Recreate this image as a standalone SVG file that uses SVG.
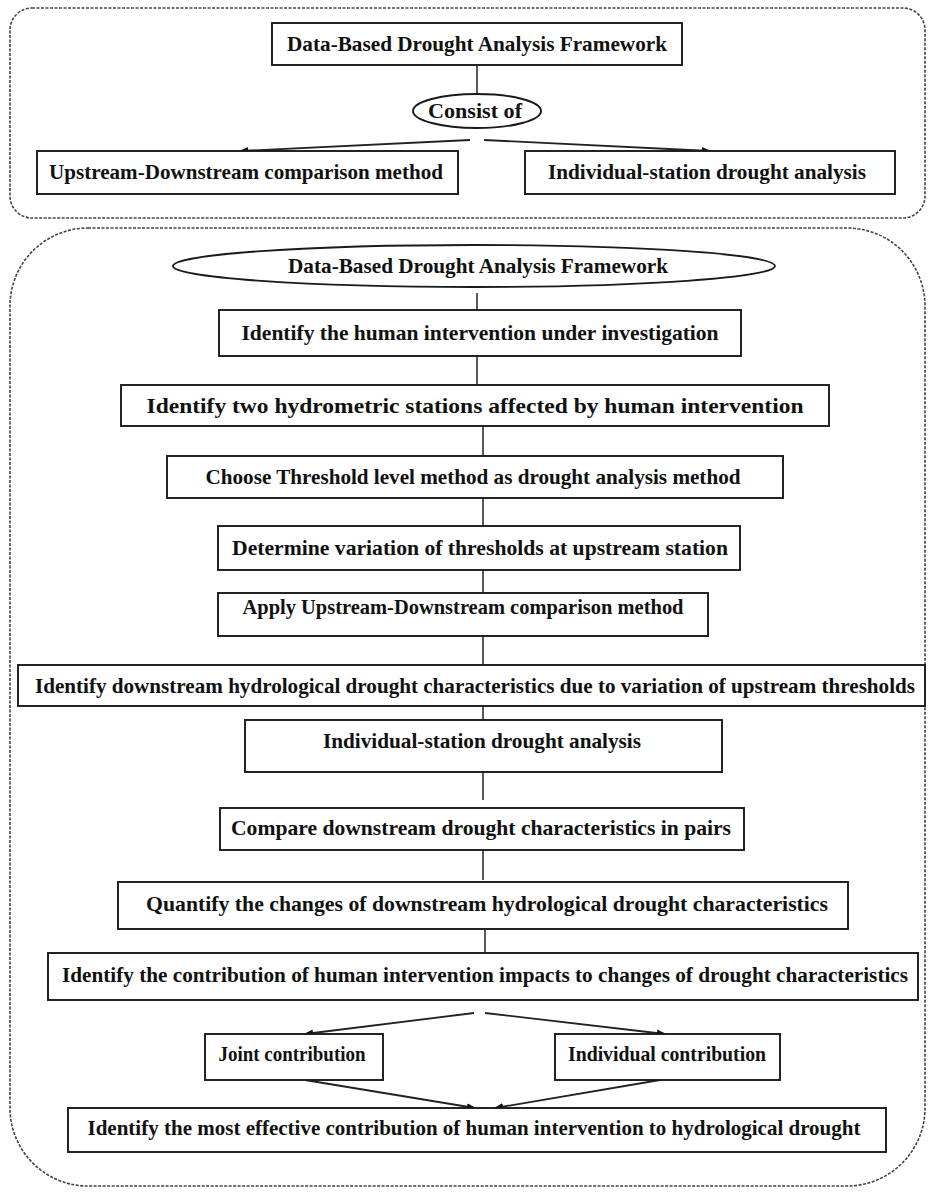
<svg xmlns="http://www.w3.org/2000/svg" width="928" height="1196" viewBox="0 0 928 1196">
<defs>
<style>
.c{fill:none;stroke:#444;stroke-width:1.6;stroke-dasharray:3 1.5}
.b{fill:#fff;stroke:#1a1a1a;stroke-width:1.9}
.t{font-family:"Liberation Serif","Times New Roman",serif;font-weight:bold;font-size:21px;fill:#111;text-anchor:middle}
.l{stroke:#222;stroke-width:1.5;fill:none}
.a{stroke:#222;stroke-width:1.8;fill:none;marker-end:url(#ah)}
</style>
<marker id="ah" viewBox="0 0 10 10" refX="9" refY="5" markerWidth="9" markerHeight="9" orient="auto" markerUnits="userSpaceOnUse">
<path d="M0,1 L10,5 L0,9 z" fill="#111"/>
</marker>
</defs>
<rect width="928" height="1196" fill="#fff"/>
<rect class="c" x="10" y="8" width="915" height="210" rx="22"/>
<rect class="c" x="10" y="228" width="915" height="958" rx="78"/>
<g id="connectors">
<line class="l" x1="477" y1="65" x2="477" y2="94"/>
<path class="a" d="M470,140 L240,151"/>
<path class="a" d="M484,140 L710,151"/>
<line class="l" x1="477" y1="293" x2="477" y2="310"/>
<line class="l" x1="477" y1="356" x2="477" y2="385"/>
<line class="l" x1="483" y1="426" x2="483" y2="456"/>
<line class="l" x1="483" y1="498" x2="483" y2="526"/>
<line class="l" x1="483" y1="570" x2="483" y2="593"/>
<line class="l" x1="483" y1="636" x2="483" y2="665"/>
<line class="l" x1="483" y1="706" x2="483" y2="720"/>
<line class="l" x1="483" y1="772" x2="483" y2="800"/>
<line class="l" x1="483" y1="850" x2="483" y2="880"/>
<line class="l" x1="485" y1="929" x2="485" y2="953"/>
<path class="a" d="M474,1013 L305,1034"/>
<path class="a" d="M485,1013 L665,1034"/>
<path class="a" d="M305,1080 L475,1108"/>
<path class="a" d="M660,1080 L495,1108"/>
</g>
<g id="n_top"><rect class="b" x="272" y="23" width="410" height="42"/><text class="t" x="477" y="51" textLength="380" lengthAdjust="spacingAndGlyphs">Data-Based Drought Analysis Framework</text></g>
<g id="n_consist"><ellipse class="b" cx="477" cy="111" rx="64" ry="17"/><text class="t" x="475" y="118" textLength="94" lengthAdjust="spacingAndGlyphs">Consist of</text></g>
<g id="n_updown"><rect class="b" x="37" y="151" width="421" height="43"/><text class="t" x="246" y="179" textLength="394" lengthAdjust="spacingAndGlyphs">Upstream-Downstream comparison method</text></g>
<g id="n_indiv"><rect class="b" x="525" y="151" width="370" height="43"/><text class="t" x="707" y="179" textLength="318" lengthAdjust="spacingAndGlyphs">Individual-station drought analysis</text></g>
<g id="n_ell"><ellipse class="b" cx="474" cy="266" rx="301" ry="21"/><text class="t" x="478" y="273" textLength="380" lengthAdjust="spacingAndGlyphs">Data-Based Drought Analysis Framework</text></g>
<g id="n1"><rect class="b" x="219" y="310" width="522" height="46"/><text class="t" x="480" y="340" textLength="477" lengthAdjust="spacingAndGlyphs">Identify the human intervention under investigation</text></g>
<g id="n2"><rect class="b" x="121" y="385" width="708" height="41"/><text class="t" x="475" y="413" textLength="657" lengthAdjust="spacingAndGlyphs">Identify two hydrometric stations affected by human intervention</text></g>
<g id="n3"><rect class="b" x="167" y="456" width="616" height="42"/><text class="t" x="473" y="484" textLength="535" lengthAdjust="spacingAndGlyphs">Choose Threshold level method as drought analysis method</text></g>
<g id="n4"><rect class="b" x="218" y="526" width="522" height="44"/><text class="t" x="480" y="555" textLength="496" lengthAdjust="spacingAndGlyphs">Determine variation of thresholds at upstream station</text></g>
<g id="n5"><rect class="b" x="218" y="593" width="490" height="43"/><text class="t" x="463" y="614" textLength="441" lengthAdjust="spacingAndGlyphs">Apply Upstream-Downstream comparison method</text></g>
<g id="n6"><rect class="b" x="18" y="665" width="907" height="41"/><text class="t" x="475" y="693" textLength="880" lengthAdjust="spacingAndGlyphs">Identify downstream hydrological drought characteristics due to variation of upstream thresholds</text></g>
<g id="n7"><rect class="b" x="245" y="720" width="477" height="52"/><text class="t" x="482" y="748" textLength="318" lengthAdjust="spacingAndGlyphs">Individual-station drought analysis</text></g>
<g id="n8"><rect class="b" x="220" y="808" width="524" height="42"/><text class="t" x="481" y="835" textLength="500" lengthAdjust="spacingAndGlyphs">Compare downstream drought characteristics in pairs</text></g>
<g id="n9"><rect class="b" x="118" y="882" width="730" height="47"/><text class="t" x="487" y="911" textLength="682" lengthAdjust="spacingAndGlyphs">Quantify the changes of downstream hydrological drought characteristics</text></g>
<g id="n10"><rect class="b" x="48" y="953" width="870" height="47"/><text class="t" x="485" y="982" textLength="846" lengthAdjust="spacingAndGlyphs">Identify the contribution of human intervention impacts to changes of drought characteristics</text></g>
<g id="n_joint"><rect class="b" x="205" y="1034" width="178" height="46"/><text class="t" x="292" y="1061" textLength="147" lengthAdjust="spacingAndGlyphs">Joint contribution</text></g>
<g id="n_indc"><rect class="b" x="555" y="1034" width="225" height="46"/><text class="t" x="667" y="1061" textLength="198" lengthAdjust="spacingAndGlyphs">Individual contribution</text></g>
<g id="n_final"><rect class="b" x="68" y="1108" width="818" height="44"/><text class="t" x="474" y="1135" textLength="773" lengthAdjust="spacingAndGlyphs">Identify the most effective contribution of human intervention to hydrological drought</text></g>
</svg>
